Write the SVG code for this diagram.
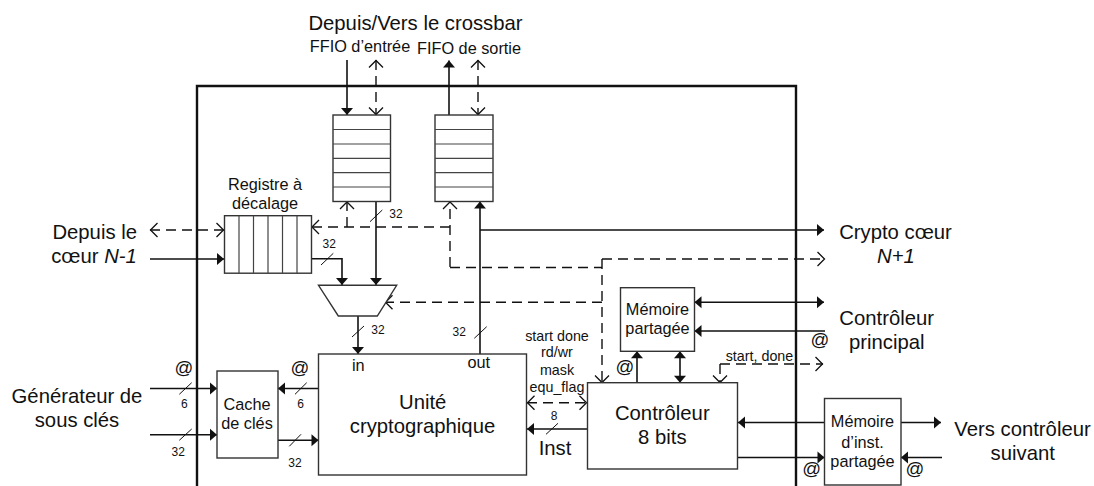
<svg xmlns="http://www.w3.org/2000/svg" width="1094" height="486" viewBox="0 0 1094 486">
<style>
text{font-family:"Liberation Sans",Arial,sans-serif;fill:#111}
.b{font-size:20.300px}.m{font-size:16.300px}.s{font-size:12px}.t{font-size:14.300px}.a{font-size:18.500px}
.c{text-anchor:middle}
.box{fill:#fff;stroke:#333;stroke-width:1.4}
.in{fill:none;stroke:#444;stroke-width:1.2}
.ln{fill:none;stroke:#111;stroke-width:1.6}
.sl{fill:none;stroke:#111;stroke-width:1}
.d{fill:none;stroke:#111;stroke-width:1.4;stroke-dasharray:10 6}
</style>
<defs>
<marker id="af" markerUnits="userSpaceOnUse" markerWidth="9" markerHeight="13" refX="8" refY="6.500" orient="auto-start-reverse"><path d="M1 0.500L8 6.500L1 12.500Z" fill="#111"/></marker>
<marker id="ao" markerUnits="userSpaceOnUse" markerWidth="10" markerHeight="16" refX="8.500" refY="8" orient="auto-start-reverse"><path d="M1 1L8 8L1 15" fill="none" stroke="#111" stroke-width="1.300"/></marker>
</defs>
<g id="frame"><path d="M197 486V86H796V486" fill="none" stroke="#111" stroke-width="2.400"/></g>
<g id="connectors">
<path class="ln" marker-end="url(#af)" d="M347 60V115"/>
<path class="d" marker-start="url(#ao)" marker-end="url(#ao)" d="M376 60V115"/>
<path class="ln" marker-end="url(#af)" d="M449 115V60.500"/>
<path class="d" marker-start="url(#ao)" marker-end="url(#ao)" d="M478 60V115"/>
<path class="d" marker-start="url(#ao)" marker-end="url(#ao)" d="M150 230H224"/>
<path class="ln" marker-end="url(#af)" d="M150 259H224"/>
<path class="d" marker-end="url(#ao)" d="M450 227H311.500"/>
<path class="d" marker-end="url(#ao)" d="M347 227V201.500"/>
<path class="d" marker-end="url(#ao)" d="M450 267V201.500"/>
<path class="d" d="M450 267.500H602"/>
<path class="ln" marker-end="url(#af)" d="M376 201V285"/>
<path class="ln" marker-end="url(#af)" d="M311 258.700H342V285"/>
<path class="sl" d="M321 265L333.300 253.300M370 221.700L382.300 210"/>
<path class="d" marker-end="url(#ao)" d="M602 302.300H385"/>
<path class="d" marker-end="url(#ao)" d="M602 259H825"/>
<path class="d" marker-end="url(#ao)" d="M602 259V383"/>
<path class="ln" marker-end="url(#af)" d="M358 316V354"/>
<path class="sl" d="M352 337L364 326"/>
<path class="ln" marker-end="url(#af)" d="M480 354V201.500"/>
<path class="sl" d="M474.300 338.300L486.700 326.700"/>
<path class="ln" marker-end="url(#af)" d="M480 230H824"/>
<path class="ln" marker-start="url(#af)" marker-end="url(#af)" d="M694.500 302.300H824"/>
<path class="ln" marker-end="url(#af)" d="M825 331H694.500"/>
<path class="ln" marker-end="url(#af)" d="M150 388.500H217"/>
<path class="ln" marker-end="url(#af)" d="M150 434.700H217"/>
<path class="sl" d="M179.300 394.300L191.700 382.700M179.300 440.300L191.700 429"/>
<path class="ln" marker-end="url(#af)" d="M318.500 388.500H278"/>
<path class="sl" d="M295 394.300L306.700 382.700"/>
<path class="ln" marker-end="url(#af)" d="M278 440.300H318.500"/>
<path class="sl" d="M289.300 446.300L301 434.300"/>
<path class="ln" marker-end="url(#af)" d="M637 383V351.300"/>
<path class="ln" marker-start="url(#af)" marker-end="url(#af)" d="M680 351.300V382.700"/>
<path class="d" marker-end="url(#ao)" d="M720 364H823"/>
<path class="d" marker-end="url(#ao)" d="M720 364V383"/>
<path class="d" marker-start="url(#ao)" marker-end="url(#ao)" d="M527 402.700H587"/>
<path class="ln" marker-end="url(#af)" d="M587 429H527"/>
<path class="sl" d="M546 434.300L558 423.300"/>
<path class="ln" marker-end="url(#af)" d="M824.500 422.500H738"/>
<path class="ln" marker-end="url(#af)" d="M738 457.500H824.500"/>
<path class="ln" marker-end="url(#af)" d="M901 422.500H941"/>
<path class="ln" marker-end="url(#af)" d="M942 457.500H901"/>
</g>
<g id="fifo-in"><rect class="box" x="333" y="115" width="57.500" height="86.500"/><path class="in" d="M333 129.500H390.500M333 144H390.500M333 158.300H390.500M333 172.700H390.500M333 187H390.500"/></g>
<g id="fifo-out"><rect class="box" x="435" y="115" width="58" height="86.500"/><path class="in" d="M435 129.500H493M435 144H493M435 158.300H493M435 172.700H493M435 187H493"/></g>
<g id="shift"><rect class="box" x="224.500" y="215.700" width="87" height="57.500"/><path class="in" d="M239 215.700V273.200M253.500 215.700V273.200M268 215.700V273.200M282.500 215.700V273.200M297 215.700V273.200"/></g>
<g id="mux"><path class="box" d="M318.500 285.300H396.700L377.300 316H338.300Z"/></g>
<g id="unit"><rect class="box" x="318.500" y="354" width="208" height="121"/>
<text class="m c" x="358.300" y="370.700">in</text><text class="m c" x="478.700" y="368.300">out</text>
<text class="b c" x="422.700" y="409">Unité</text><text class="b c" x="422.500" y="432.700">cryptographique</text></g>
<g id="cache"><rect class="box" x="217" y="371" width="61" height="87"/><text class="m c" x="247" y="410">Cache</text><text class="m c" x="247" y="429">de clés</text></g>
<g id="ctrl"><rect class="box" x="587.500" y="382.700" width="150" height="86.300"/><text class="b c" x="662.300" y="420">Contrôleur</text><text class="b c" x="662.300" y="444">8 bits</text></g>
<g id="mem"><rect class="box" x="620.500" y="287.700" width="74" height="63.600"/><text class="m c" x="657.500" y="315">Mémoire</text><text class="m c" x="657.500" y="334">partagée</text></g>
<g id="inst"><rect class="box" x="824.500" y="398.500" width="76.500" height="86.500"/><text class="m c" x="862.500" y="426.700">Mémoire</text><text class="m c" x="862.500" y="447.700">d’inst.</text><text class="m c" x="862.500" y="466.700">partagée</text></g>
<g id="labels">
<text class="b c" x="415.500" y="30">Depuis/Vers le crossbar</text>
<text class="m c" x="360" y="52">FFIO d’entrée</text><text class="m c" x="469" y="54">FIFO de sortie</text>
<text class="m c" x="265" y="190">Registre à</text><text class="m c" x="265" y="209">décalage</text>
<text class="b c" x="94.700" y="239">Depuis le</text><text class="b c" x="94" y="263">cœur <tspan font-style="italic">N-1</tspan></text>
<text class="b c" x="77" y="402.700">Générateur de</text><text class="b c" x="77" y="426.700">sous clés</text>
<text class="a c" x="184" y="374">@</text><text class="a c" x="300" y="374">@</text>
<text class="s c" x="184.300" y="407.700">6</text><text class="s c" x="300.700" y="407.700">6</text><text class="s c" x="178.300" y="456">32</text><text class="s c" x="295" y="467">32</text>
<text class="s c" x="329.300" y="247.700">32</text><text class="s c" x="396" y="217.700">32</text><text class="s c" x="378" y="334">32</text><text class="s c" x="459.300" y="336">32</text>
<text class="b c" x="895.500" y="239">Crypto cœur</text><text class="b c" x="896" y="262.700" font-style="italic">N+1</text>
<text class="b c" x="886.700" y="325">Contrôleur</text><text class="b c" x="886.700" y="349">principal</text>
<text class="a c" x="820" y="345.500">@</text><text class="a c" x="625" y="373">@</text><text class="a c" x="811.700" y="474.500">@</text><text class="a c" x="915" y="474.500">@</text>
<text class="t" x="725.700" y="360.700">start, done</text>
<text class="t c" x="557" y="340.700">start done</text><text class="t c" x="557" y="357.300">rd/wr</text><text class="t c" x="557" y="375">mask</text><text class="t c" x="557" y="392.300">equ_flag</text>
<text class="s c" x="554" y="420">8</text><text class="b c" x="555" y="455">Inst</text>
<text class="b c" x="1022.500" y="435.700">Vers contrôleur</text><text class="b c" x="1022.700" y="460">suivant</text>
</g>
</svg>
